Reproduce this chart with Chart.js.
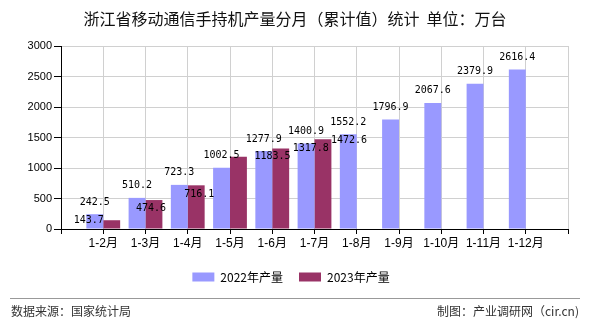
<!DOCTYPE html>
<html>
<head>
<meta charset="utf-8">
<script src="https://cdn.jsdelivr.net/npm/chart.js@4.4.0/dist/chart.umd.min.js"></script>
<style>
    body { margin: 0; background: #fff; }
</style>
</head>
<body>
<canvas id="chartMonth" width="590" height="330"></canvas>
<script>
// 浙江省移动通信手持机产量 - 分月累计值 (万台)

const months = ["1-2月", "1-3月", "1-4月", "1-5月", "1-6月", "1-7月", "1-8月", "1-9月", "1-10月", "1-11月", "1-12月"];
const output2022 = [242.5, 510.2, 723.3, 1002.5, 1277.9, 1400.9, 1552.2, 1796.9, 2067.6, 2379.9, 2616.4];
const output2023 = [143.7, 474.6, 716.1, 1183.5, 1317.8, 1472.6];
const yTicks = [0, 500, 1000, 1500, 2000, 2500, 3000];

// empty slot before and after the months, like the original axis
const labels = ["", ...months, ""];
const pad = (arr) => [null, ...arr, ...Array(months.length - arr.length + 1).fill(null)];

// ----- ----- ----- ----- -----

// value labels over the bars
// (the 2023 ones are pushed sideways in the source so they don't overlap)
const shift2023 = [[-23, 0], [-3, 8], [3, 9], [34, 0], [30, 0], [26, 1]];

const valueLabels = {
    id: "valueLabels",
    afterDatasetsDraw(chart) {
        const ctx = chart.ctx;
        ctx.save();
        ctx.font = "10px 'DejaVu Sans Mono'";
        ctx.fillStyle = "#000";
        ctx.textAlign = "center";
        ctx.textBaseline = "middle";
        chart.data.datasets.forEach((ds, i) => {
            chart.getDatasetMeta(i).data.forEach((bar, j) => {
                const v = ds.data[j];
                if (v == null) return;
                let x = bar.x;
                let y = bar.y - 12;
                if (i === 1) {
                    const s = shift2023[j - 1] || [0, 0];
                    x += s[0];
                    y = bar.y + s[1];
                }
                ctx.fillText(v.toFixed(1), x, y);
            });
        });
        ctx.restore();
    },
};

// title + source line
const frame = {
    id: "frame",
    afterDraw(chart) {
        const ctx = chart.ctx;
        ctx.save();
        ctx.fillStyle = "#111";
        ctx.font = "16px 'Noto Sans CJK SC'";
        ctx.textAlign = "center";
        ctx.textBaseline = "middle";
        ctx.fillText("浙江省移动通信手持机产量分月（累计值）统计  单位：万台", 295, 19);

        ctx.strokeStyle = "#999";
        ctx.lineWidth = 1;
        ctx.beginPath();
        ctx.moveTo(10, 298.5);
        ctx.lineTo(580, 298.5);
        ctx.stroke();

        ctx.fillStyle = "#333";
        ctx.font = "12px 'Noto Sans CJK SC'";
        ctx.textAlign = "left";
        ctx.fillText("数据来源：国家统计局", 11, 311);
        ctx.textAlign = "right";
        ctx.fillText("制图：产业调研网（cir.cn)", 579, 311);
        ctx.restore();
    },
};

Chart.defaults.font.family = "'Liberation Sans', 'Noto Sans CJK SC'";
Chart.defaults.color = "#000";

const config = {
    type: "bar",
    data: {
        labels: labels,
        datasets: [
            {
                label: "2022年产量",
                data: pad(output2022),
                backgroundColor: "#9999FF",
                borderWidth: 0,
                categoryPercentage: 0.8,
                barPercentage: 1.0,
            },
            {
                label: "2023年产量",
                data: pad(output2023),
                backgroundColor: "#993366",
                borderWidth: 0,
                categoryPercentage: 0.8,
                barPercentage: 1.0,
            },
        ],
    },
    options: {
        responsive: false,
        animation: false,
        devicePixelRatio: 1,
        layout: {
            padding: { top: 46, right: 22, bottom: 37, left: 14 },
        },
        scales: {
            x: {
                offset: false,
                grid: { offset: false, color: "#d0d0d0", tickColor: "#000", tickLength: 5 },
                border: { color: "#000" },
                ticks: {
                    autoSkip: false,
                    maxRotation: 0,
                    padding: 2,
                    font: { size: 12 },
                },
                afterFit: (scale) => { scale.height = 26; },
            },
            y: {
                min: yTicks[0],
                max: yTicks[yTicks.length - 1],
                grid: { color: "#d0d0d0", tickColor: "#000", tickLength: 7 },
                border: { color: "#000" },
                ticks: {
                    stepSize: yTicks[1] - yTicks[0],
                    padding: 2,
                    font: { size: 11 },
                    callback: (value) => String(value),
                },
                afterFit: (scale) => { scale.width = 47; },
            },
        },
        plugins: {
            legend: {
                position: "bottom",
                labels: {
                    boxWidth: 22,
                    boxHeight: 9,
                    padding: 16,
                    font: { size: 12, family: "'Noto Sans CJK SC'" },
                },
            },
            tooltip: { enabled: false },
        },
    },
    plugins: [valueLabels, frame],
};

let ctx = document.getElementById("chartMonth");

let barGraph = new Chart(ctx, config);
</script>
</body>
</html>
